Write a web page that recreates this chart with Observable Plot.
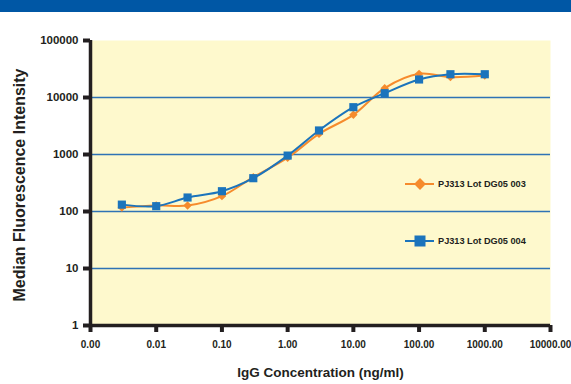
<!DOCTYPE html>
<html>
<head>
<meta charset="utf-8">
<script src="https://cdn.jsdelivr.net/npm/d3@7"></script>
<script src="https://cdn.jsdelivr.net/npm/@observablehq/plot@0.6"></script>
<style>
  body { margin: 0; background: #fff; font-family: "Liberation Sans", Arial, Helvetica, sans-serif; }
  #wrap { position: relative; width: 571px; height: 384px; overflow: hidden; }
  #banner { position: absolute; left: 0; top: 0; width: 571px; height: 12px; background: #0057a5; }
  #legend { position: absolute; left: 0; top: 0; }
</style>
</head>
<body>
<div id="wrap">
  <div id="chart"></div>
  <div id="banner"></div>
  <div id="legend"></div>
</div>
<script>
// Concentrations (ng/ml)
const concentrations = [0.003, 0.01, 0.03, 0.1, 0.3, 1, 3, 10, 30, 100, 300, 1000];
// Series values (Median Fluorescence Intensity)
const lot003 = [117, 128, 127, 186, 400, 880, 2300, 4970, 14600, 26000, 22800, 24300];
const lot004 = [132, 124, 176, 227, 384, 957, 2640, 6760, 11900, 20700, 25600, 25600];
const seriesNames = ["PJ313 Lot DG05 003", "PJ313 Lot DG05 004"];
// Tick values and labels
const xTicks = [0.001, 0.01, 0.1, 1, 10, 100, 1000, 10000];
const xTickLabels = ["0.00", "0.01", "0.10", "1.00", "10.00", "100.00", "1000.00", "10000.00"];
const yTicks = [1, 10, 100, 1000, 10000, 100000];
const yTickLabels = ["1", "10", "100", "1000", "10000", "100000"];
const gridValues = [10, 100, 1000, 10000];
const xTitle = "IgG Concentration (ng/ml)";
const yTitle = "Median Fluorescence Intensity";

const orange = "#f68b2c";
const blue = "#1b74bc";
const ink = "#231f20";

const d003 = concentrations.map((c, i) => ({x: c, y: lot003[i]}));
const d004 = concentrations.map((c, i) => ({x: c, y: lot004[i]}));

const chart = Plot.plot({
  width: 571,
  height: 384,
  marginTop: 40,
  marginRight: 21,
  marginBottom: 59,
  marginLeft: 90,
  style: {fontFamily: "'Liberation Sans', Arial, Helvetica, sans-serif", background: "transparent"},
  x: {type: "log", domain: [0.001, 10000]},
  y: {type: "log", domain: [1, 100000]},
  marks: [
    Plot.frame({fill: "#fef9cd", stroke: null}),
    Plot.ruleY(gridValues, {stroke: "#2f73b5", strokeWidth: 1.5}),
    Plot.line(d003, {x: "x", y: "y", stroke: orange, strokeWidth: 2, curve: "catmull-rom"}),
    Plot.line(d004, {x: "x", y: "y", stroke: blue, strokeWidth: 2, curve: "catmull-rom"}),
    Plot.dot(d003, {x: "x", y: "y", symbol: "diamond2", r: 3.8, fill: orange, stroke: null}),
    Plot.dot(d004, {x: "x", y: "y", symbol: "square", r: 4.6, fill: blue, stroke: null}),
    Plot.ruleX([0.001], {stroke: ink, strokeWidth: 3.5}),
    Plot.ruleY([1], {stroke: ink, strokeWidth: 3.5}),
    Plot.axisY({ticks: yTicks, tickFormat: d => yTickLabels[yTicks.indexOf(d)], tickSize: 7, tickPadding: 5,
      stroke: ink, strokeWidth: 4, fill: ink, fontSize: 11.5, fontWeight: "bold", label: null}),
    Plot.axisX({ticks: xTicks, tickFormat: d => xTickLabels[xTicks.indexOf(d)], tickSize: 7, tickPadding: 8,
      stroke: ink, strokeWidth: 4, fill: ink, fontSize: 10, fontWeight: "bold", label: null}),
    Plot.text([yTitle], {frameAnchor: "left", textAnchor: "middle", lineAnchor: "middle", dx: -71, dy: 2, rotate: -90, fontSize: 16, fontWeight: "bold", fill: ink}),
    Plot.text([xTitle], {frameAnchor: "bottom", textAnchor: "middle", lineAnchor: "middle", dy: 47, fontSize: 13.5, fontWeight: "bold", fill: ink})
  ]
});
document.getElementById("chart").appendChild(chart);

// Legend (inside plot area)
const leg = d3.select("#legend").append("svg").attr("width", 571).attr("height", 384)
  .style("font-family", "'Liberation Sans', Arial, Helvetica, sans-serif");
const items = [
  {name: seriesNames[0], color: orange, sym: "diamond", y: 184},
  {name: seriesNames[1], color: blue, sym: "square", y: 241}
];
items.forEach(it => {
  const g = leg.append("g");
  g.append("line").attr("x1", 405).attr("x2", 434).attr("y1", it.y).attr("y2", it.y)
    .attr("stroke", it.color).attr("stroke-width", 2);
  if (it.sym === "diamond") {
    g.append("path").attr("d", d3.symbol(d3.symbolDiamond2, 90)()).attr("transform", `translate(420,${it.y})`).attr("fill", it.color);
  } else {
    g.append("rect").attr("x", 414.5).attr("y", it.y - 5.5).attr("width", 11).attr("height", 11).attr("fill", it.color);
  }
  g.append("text").attr("x", 438).attr("y", it.y).attr("dy", "0.35em").attr("font-size", 9.2)
    .attr("font-weight", "bold").attr("fill", ink).text(it.name);
});
</script>
</body>
</html>
